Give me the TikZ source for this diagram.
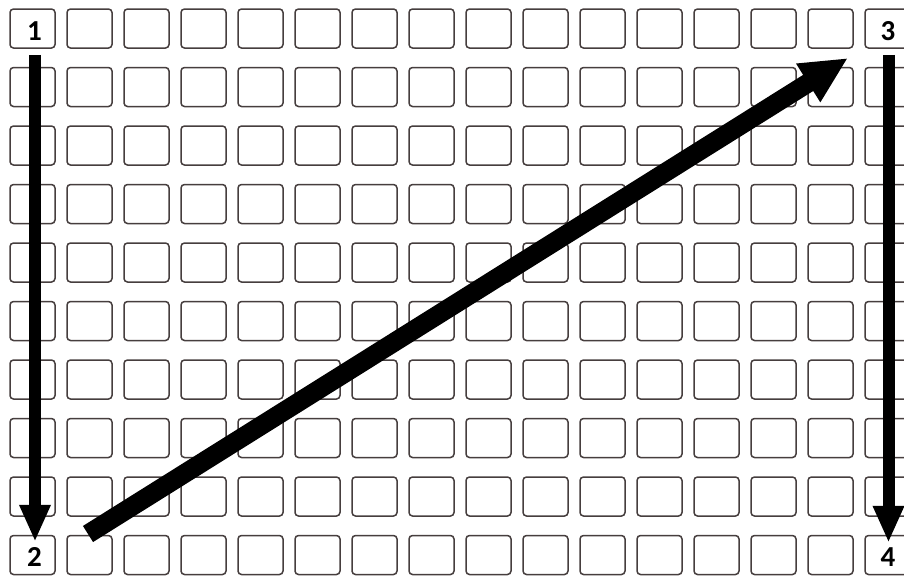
\documentclass[tikz,border=0pt]{standalone}
\usepackage{fontspec}
\setmainfont{Carlito}
\usepackage{tikz}
\usetikzlibrary{arrows.meta, positioning}
\definecolor{CellLine}{RGB}{70, 62, 62}

\tikzset{
  cell/.style={draw=CellLine, line width=1.5pt, rounded corners=3.5pt,
    minimum width=45pt, minimum height=39pt, inner sep=0pt},
  corner/.style={font=\bfseries\fontsize{29}{29}\selectfont, inner sep=0pt},
  downarrow/.style={line width=12pt, -{Triangle[width=29pt, length=37pt]}},
  diagarrow/.style={line width=19pt, -{Triangle[width=42pt, length=47pt]}}
}

\begin{document}
\begin{tikzpicture}[x=1pt, y=-1pt]
\clip (0,0) rectangle (904,576);
\fill[white] (0,0) rectangle (904,576);
\foreach \i in {1,...,16} {
  \foreach \j in {1,...,10} {
    \pgfmathsetmacro{\cx}{32.5 + 57*(\i-1)}
    \pgfmathsetmacro{\cy}{28.5 + 58.5*(\j-1)}
    \node[cell] (c-\i-\j) at (\cx, \cy) {};
  }
}
\node[corner] (n1) at ([xshift=2pt, yshift=-3pt]c-1-1) {1};
\node[corner] (n2) at ([xshift=2pt, yshift=-2pt]c-1-10) {2};
\node[corner] (n3) at ([xshift=0.5pt, yshift=-3pt]c-16-1) {3};
\node[corner] (n4) at ([xshift=0.5pt, yshift=-2pt]c-16-10) {4};
\coordinate (diagtail) at (88, 534);
\coordinate (diagtip) at (848, 58);
\draw[downarrow] ([xshift=2.5pt, yshift=-6pt]c-1-1.south) -- ([xshift=2.5pt, yshift=-7pt]c-1-10.north);
\draw[downarrow] ([xshift=1pt, yshift=-6pt]c-16-1.south) -- ([xshift=1pt, yshift=-8pt]c-16-10.north);
\draw[diagarrow] (diagtail) -- (diagtip);
\end{tikzpicture}
\end{document}
